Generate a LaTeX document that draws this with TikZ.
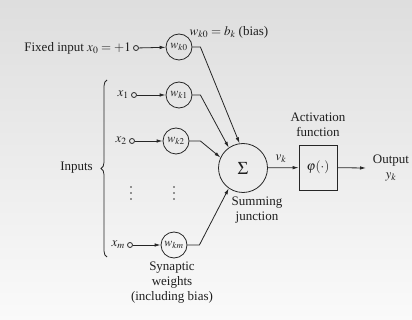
\documentclass[tikz,border=0pt]{standalone}
\usepackage{mathptmx}
\usepackage{fontspec}
\setmainfont{Liberation Serif}
\usetikzlibrary{arrows.meta,decorations.pathreplacing,calc}
\begin{document}
\begin{tikzpicture}[x=1pt,y=-1pt,
  ink/.style={draw=black!85,line width=0.8pt},
  lbl/.style={font=\fontsize{13}{15}\selectfont,text=black!88,inner sep=0pt},
  wcirc/.style={ink,circle,minimum size=26pt,inner sep=0pt,font=\fontsize{12}{13}\selectfont,text=black!88},
  port/.style={ink,circle,minimum size=5pt,inner sep=0pt},
  dot/.style={circle,fill=black!80,minimum size=1.6pt,inner sep=0pt},
  arr/.style={ink,-{Latex[length=6pt,width=3.5pt]}}]
\shade[top color=black!13,bottom color=black!2] (0,0) rectangle (412,320);
\useasboundingbox (0,0) rectangle (412,320);
% fixed input
\node[lbl,anchor=east] (fixed) at (131,48) {Fixed input $x_0=+1$};
\node[port] (c0) at (136,48) {};
\node[wcirc] (w0) at (179,47) {$w_{k0}$};
\node[lbl] (bias) at (229,32) {$w_{k0}=b_k$ (bias)};
% inputs
\node[lbl,anchor=east] (x1) at (129,95) {$x_1$};
\node[port] (c1) at (134,95) {};
\node[wcirc] (w1) at (179,95) {$w_{k1}$};
\node[lbl,anchor=east] (x2) at (127,141) {$x_2$};
\node[port] (c2) at (132,141) {};
\node[wcirc] (w2) at (176,141) {$w_{k2}$};
\node[lbl,anchor=east] (xm) at (125,245) {$x_m$};
\node[port] (cm) at (130,245) {};
\node[wcirc] (wm) at (174,245) {$w_{km}$};
\foreach \y [count=\i] in {187,193,199}{
  \node[dot] (da\i) at (131,\y) {};
  \node[dot] (db\i) at (174,\y) {};
}
% brace
\coordinate (bb) at (107,257);
\coordinate (bt) at (107,80);
\draw[ink,decorate,decoration={brace,amplitude=6pt}] (bb) -- (bt);
\node[lbl,anchor=east] (inputs) at (93,168) {Inputs};
% summing junction
\node[ink,circle,minimum size=49pt,inner sep=0pt,font=\fontsize{18}{19}\selectfont,text=black!88] (sigma) at (243,168) {$\Sigma$};
\node[lbl,align=center] (sumlbl) at (257,210) {Summing\\[0pt]junction};
\node[lbl,align=center] (synlbl) at (172,283) {Synaptic\\[0pt]weights\\[0pt](including bias)};
% activation
\node[ink,rectangle,minimum width=38pt,minimum height=45pt,inner sep=0pt,font=\fontsize{13}{14}\selectfont,text=black!88] (phi) at (318,167.5) {$\varphi(\cdot)$};
\node[lbl,align=center] (actlbl) at (318,125) {Activation\\[0pt]function};
\node[lbl] (vk) at (281,159) {$v_k$};
\coordinate (outend) at (366,168);
\node[lbl,align=center] (outlbl) at (391,168) {Output\\[0pt]$y_k$};
% connectors
\draw[arr] (c0) -- (w0);
\draw[arr] (c1) -- (w1);
\draw[arr] (c2) -- (w2);
\draw[arr] (cm) -- (wm);
\draw[arr] (w0.east) -- ++(8,0) -- (sigma.98);
\draw[arr] (w1.east) -- ++(8,0) -- (sigma.125);
\draw[arr] (w2.east) -- ++(11,0) -- (sigma.155);
\draw[arr] (wm.east) -- ++(12,0) -- (sigma.235);
\draw[arr] (sigma) -- (phi);
\draw[arr] (phi) -- (outend);
\end{tikzpicture}
\end{document}
